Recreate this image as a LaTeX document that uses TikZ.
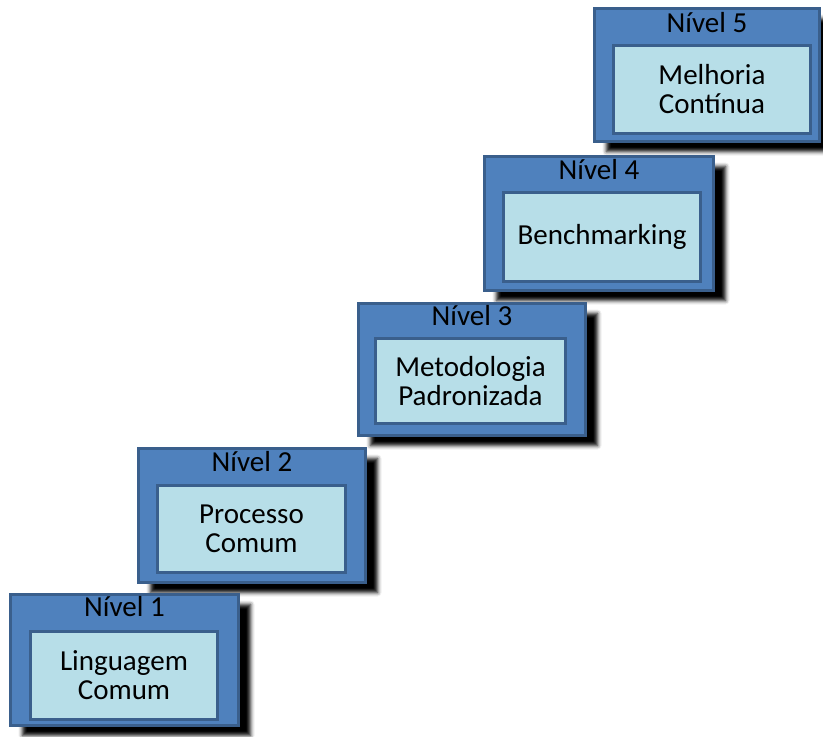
\documentclass[tikz,border=0pt]{standalone}
\usepackage{fontspec}
\setmainfont{Carlito}
\usetikzlibrary{shadows.blur}
\definecolor{nivelazul}{HTML}{4F81BD}
\definecolor{nivelborda}{HTML}{3A5F8C}
\definecolor{caixaclara}{HTML}{B7DEE8}

\begin{document}
\begin{tikzpicture}[x=0.5pt, y=-0.5pt,
    degrau/.style={draw=nivelborda, fill=nivelazul, line width=1.5pt, inner sep=0pt,
        blur shadow={shadow xshift=6pt, shadow yshift=-5pt, shadow blur radius=2pt, shadow opacity=100}},
    caixa/.style={draw=nivelborda, fill=caixaclara, line width=1.5pt, inner sep=0pt, align=center,
        font=\fontsize{14.5pt}{14.5pt}\selectfont},
    rotulo/.style={inner sep=0pt, font=\fontsize{14.5pt}{14.5pt}\selectfont}]

    \useasboundingbox (0, 0) rectangle (823, 736);

    % nivel 5
    \node [degrau, minimum width=112.5pt, minimum height=66.5pt] (n5) at (707, 75) {};
    \node [caixa, minimum width=98.5pt, minimum height=44pt] (c5) at (712, 89.5) {Melhoria\\Contínua};
    \node [rotulo] (t5) at (707, 23) {Nível 5};

    % nivel 4
    \node [degrau, minimum width=114.5pt, minimum height=67pt] (n4) at (599, 223.5) {};
    \node [caixa, minimum width=98.5pt, minimum height=44.5pt] (c4) at (602, 237) {Benchmarking};
    \node [rotulo] (t4) at (599, 170) {Nível 4};

    % nivel 3
    \node [degrau, minimum width=113.5pt, minimum height=66pt] (n3) at (472, 369.5) {};
    \node [caixa, minimum width=95pt, minimum height=42.5pt] (c3) at (470.5, 381) {Metodologia\\Padronizada};
    \node [rotulo] (t3) at (472, 316) {Nível 3};

    % nivel 2
    \node [degrau, minimum width=113.5pt, minimum height=67pt] (n2) at (252, 515.5) {};
    \node [caixa, minimum width=94pt, minimum height=43.5pt] (c2) at (251.5, 529) {Processo\\Comum};
    \node [rotulo] (t2) at (252, 462) {Nível 2};

    % nivel 1
    \node [degrau, minimum width=114pt, minimum height=65.5pt] (n1) at (124.5, 660) {};
    \node [caixa, minimum width=93.5pt, minimum height=44pt] (c1) at (124, 675.5) {Linguagem\\Comum};
    \node [rotulo] (t1) at (124.5, 607) {Nível 1};

\end{tikzpicture}
\end{document}
